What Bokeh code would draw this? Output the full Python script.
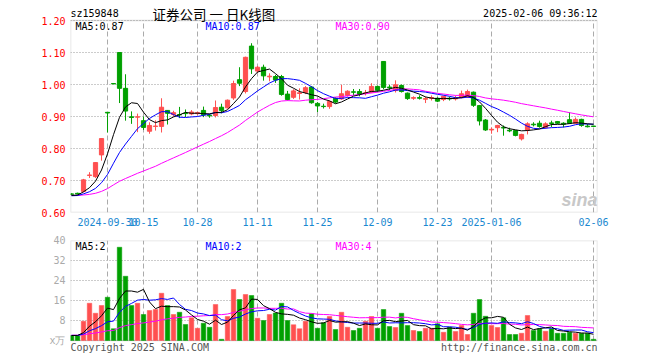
import numpy as np
from bokeh.plotting import figure
from bokeh.models import (Range1d, FixedTicker, Label, ColumnDataSource, PrintfTickFormatter,
                          BoxAnnotation)
from bokeh.layouts import column
from bokeh.embed import file_html
from bokeh.resources import INLINE

# ---------------- data ----------------
dates = ["09-20", "09-23", "09-24", "09-25", "09-26", "09-27", "09-30", "10-08", "10-09", "10-10",
         "10-11", "10-14", "10-15", "10-16", "10-17", "10-18", "10-21", "10-22", "10-23", "10-24",
         "10-25", "10-28", "10-29", "10-30", "10-31", "11-01", "11-04", "11-05", "11-06", "11-07",
         "11-08", "11-11", "11-12", "11-13", "11-14", "11-15", "11-18", "11-19", "11-20", "11-21",
         "11-22", "11-25", "11-26", "11-27", "11-28", "11-29", "12-02", "12-03", "12-04", "12-05",
         "12-06", "12-09", "12-10", "12-11", "12-12", "12-13", "12-16", "12-17", "12-18", "12-19",
         "12-20", "12-23", "12-24", "12-25", "12-26", "12-27", "12-30", "12-31", "01-02", "01-03",
         "01-06", "01-07", "01-08", "01-09", "01-10", "01-13", "01-14", "01-15", "01-16", "01-17",
         "01-20", "01-21", "01-22", "01-23", "01-24", "01-27", "02-05", "02-06"]

open_ = [0.658, 0.660, 0.666, 0.716, 0.712, 0.780, 0.913, 1.003, 1.100, 0.988,
         0.899, 0.898, 0.887, 0.854, 0.869, 0.869, 0.919, 0.906, 0.906, 0.910,
         0.908, 0.909, 0.919, 0.904, 0.903, 0.929, 0.927, 0.958, 1.015, 0.978,
         1.120, 1.042, 1.054, 1.024, 1.025, 1.025, 0.970, 0.960, 0.972, 0.975,
         0.992, 0.941, 0.932, 0.931, 0.957, 0.955, 0.966, 0.977, 0.978, 0.972,
         0.976, 0.994, 1.072, 0.992, 0.981, 0.997, 0.973, 0.957, 0.959, 0.954,
         0.957, 0.957, 0.953, 0.957, 0.955, 0.960, 0.961, 0.976, 0.934, 0.889,
         0.858, 0.865, 0.866, 0.857, 0.856, 0.830, 0.858, 0.876, 0.879, 0.865,
         0.880, 0.884, 0.879, 0.890, 0.879, 0.891, 0.870, 0.870]
high = [0.660, 0.662, 0.705, 0.726, 0.757, 0.832, 0.914, 1.003, 1.101, 1.032,
        0.916, 0.909, 0.900, 0.882, 0.888, 0.957, 0.920, 0.918, 0.930, 0.922,
        0.920, 0.915, 0.931, 0.908, 0.950, 0.940, 0.953, 1.012, 1.054, 1.087,
        1.129, 1.058, 1.062, 1.035, 1.030, 1.030, 0.980, 0.985, 0.988, 0.995,
        0.995, 0.945, 0.940, 0.950, 0.960, 0.999, 0.982, 0.986, 0.986, 0.983,
        1.004, 0.997, 1.073, 0.999, 1.013, 1.000, 0.975, 0.963, 0.966, 0.962,
        0.966, 0.960, 0.965, 0.962, 0.965, 0.981, 0.984, 0.978, 0.936, 0.892,
        0.866, 0.874, 0.872, 0.865, 0.858, 0.846, 0.882, 0.882, 0.887, 0.882,
        0.887, 0.886, 0.882, 0.913, 0.897, 0.893, 0.877, 0.871]
low = [0.655, 0.656, 0.663, 0.708, 0.708, 0.762, 0.850, 1.002, 0.942, 0.887,
       0.877, 0.851, 0.858, 0.846, 0.856, 0.850, 0.875, 0.900, 0.895, 0.898,
       0.904, 0.905, 0.898, 0.896, 0.897, 0.910, 0.925, 0.952, 0.995, 0.972,
       1.033, 1.036, 1.012, 1.010, 1.005, 0.965, 0.950, 0.955, 0.953, 0.970,
       0.940, 0.914, 0.925, 0.924, 0.941, 0.952, 0.962, 0.966, 0.963, 0.966,
       0.973, 0.977, 0.985, 0.982, 0.975, 0.975, 0.952, 0.952, 0.953, 0.942,
       0.950, 0.945, 0.948, 0.950, 0.950, 0.957, 0.958, 0.930, 0.872, 0.855,
       0.846, 0.851, 0.840, 0.851, 0.838, 0.825, 0.844, 0.869, 0.865, 0.862,
       0.867, 0.876, 0.866, 0.877, 0.877, 0.868, 0.866, 0.868]
close = [0.657, 0.658, 0.702, 0.717, 0.756, 0.831, 0.911, 1.002, 0.988, 0.917,
         0.897, 0.899, 0.866, 0.872, 0.870, 0.929, 0.910, 0.912, 0.905, 0.909,
         0.914, 0.912, 0.905, 0.902, 0.928, 0.919, 0.951, 1.003, 1.004, 1.085,
         1.049, 1.054, 1.027, 1.026, 1.014, 0.969, 0.953, 0.980, 0.974, 0.990,
         0.943, 0.933, 0.931, 0.947, 0.945, 0.971, 0.979, 0.976, 0.969, 0.974,
         0.994, 0.982, 0.991, 0.990, 0.999, 0.978, 0.956, 0.959, 0.957, 0.956,
         0.959, 0.948, 0.963, 0.955, 0.958, 0.971, 0.978, 0.935, 0.886, 0.858,
         0.860, 0.872, 0.864, 0.855, 0.841, 0.844, 0.877, 0.874, 0.869, 0.877,
         0.878, 0.879, 0.876, 0.879, 0.891, 0.872, 0.868, 0.869]
volume = [2.0, 2.0, 7.7, 14.9, 10.9, 14.0, 17.3, 4.7, 37.3, 25.7,
          14.0, 14.9, 10.4, 12.0, 12.4, 18.9, 14.0, 10.4, 11.3, 6.4,
          9.1, 4.9, 6.9, 5.3, 14.4, 0.5, 9.6, 20.4, 16.4, 18.4,
          18.0, 8.9, 8.0, 10.4, 11.0, 14.9, 8.0, 6.3, 4.7, 7.7,
          10.7, 4.9, 7.1, 9.6, 4.4, 11.3, 5.3, 4.0, 4.9, 7.7,
          9.6, 4.9, 12.4, 5.6, 5.2, 10.9, 6.0, 4.0, 3.6, 4.9,
          4.9, 6.7, 3.3, 5.3, 3.6, 6.0, 2.4, 10.9, 16.4, 9.7,
          6.0, 5.2, 9.1, 2.4, 2.4, 2.9, 10.0, 4.0, 4.7, 3.7,
          4.7, 2.9, 2.9, 3.3, 2.9, 2.9, 2.9, 0.5]

# closes / volumes before the visible window (for the moving averages)
prior_close = [0.662, 0.660, 0.658, 0.655, 0.652, 0.650, 0.651, 0.654, 0.656, 0.655,
               0.653, 0.650, 0.648, 0.650, 0.652, 0.655, 0.657, 0.656, 0.654, 0.652,
               0.651, 0.649, 0.650, 0.652, 0.654, 0.653, 0.651, 0.652, 0.654]
prior_volume = [2.4, 2.2, 2.6, 2.1, 1.9, 2.3, 2.5, 2.0, 1.8, 2.2,
                2.4, 2.1, 1.9, 2.0, 2.3, 2.6, 2.2, 1.8, 2.0, 2.1,
                2.3, 1.9, 2.0, 2.2, 2.1, 1.9, 2.0, 2.1, 2.0]

tick_idx = [6, 12, 21, 31, 41, 51, 61, 70, 87]
tick_labels = ["2024-09-30", "10-15", "10-28", "11-11", "11-25", "12-09", "12-23", "2025-01-06", "02-06"]
price_ticks = [0.60, 0.70, 0.80, 0.90, 1.00, 1.10, 1.20]
volume_ticks = [0, 8, 16, 24, 32, 40]

title_code = "sz159848"
title_text = "证券公司 一 日K线图"
time_text = "2025-02-06 09:36:12"
price_ma_texts = ["MA5:0.87", "MA10:0.87", "MA30:0.90"]
vol_ma_texts = ["MA5:2", "MA10:2", "MA30:4"]
vol_unit = "x万"
copyright_text = "Copyright 2025 SINA.COM"
url_text = "http://finance.sina.com.cn"

# ---------------- derived ----------------
n = len(close)
idx = list(range(n))
UP, DOWN = "#ff5050", "#00a000"
colors = []
for i in range(n):
    if close[i] > open_[i]:
        colors.append(UP)
    elif close[i] < open_[i]:
        colors.append(DOWN)
    else:
        prev = close[i - 1] if i > 0 else prior_close[-1]
        colors.append(UP if close[i] >= prev else DOWN)


def moving_avg(prior, vals, k):
    allv = np.array(list(prior) + list(vals), dtype=float)
    off = len(prior)
    return [float(allv[off + i - k + 1: off + i + 1].mean()) for i in range(len(vals))]


src = ColumnDataSource(dict(
    x=idx, o=open_, h=high, l=low, c=close, v=volume, color=colors,
    top=[max(a, b) for a, b in zip(open_, close)],
    bot=[min(a, b) for a, b in zip(open_, close)],
    ma5=moving_avg(prior_close, close, 5), ma10=moving_avg(prior_close, close, 10),
    ma30=moving_avg(prior_close, close, 30),
    vma5=moving_avg(prior_volume, volume, 5), vma10=moving_avg(prior_volume, volume, 10),
    vma30=moving_avg(prior_volume, volume, 30),
))

FONT = "DejaVu Sans Mono"
X0, X1 = -0.17, -0.17 + 527 / 6.0
PX = 6.0  # pixels per bar
P_LO, P_HI = price_ticks[0], price_ticks[-1]
V_LO, V_HI = 0, volume_ticks[-1]


def wx(px):  # window-pixel x -> data x
    return X0 + (px - 70) / PX


def wy1(py):  # window-pixel y -> price
    return 1.20 - (py - 20) / 320.0


def wy2(py):  # window-pixel y -> volume
    return 40 - (py - 240) / 2.5


def style(p, ticks, color, lo, hi):
    p.outline_line_color = None
    p.background_fill_color = "white"
    p.border_fill_color = "white"
    p.yaxis.ticker = FixedTicker(ticks=ticks)
    p.yaxis.axis_line_color = None
    p.yaxis.major_tick_line_color = None
    p.yaxis.minor_tick_line_color = None
    p.yaxis.major_tick_out = 0
    p.yaxis.major_tick_in = 0
    p.yaxis.major_label_text_color = color
    p.yaxis.major_label_text_font = FONT
    p.yaxis.major_label_text_font_size = "10px"
    p.yaxis.major_label_standoff = 5
    p.xaxis.ticker = FixedTicker(ticks=tick_idx)
    p.xgrid.visible = False
    p.ygrid.grid_line_color = "#999999"
    p.ygrid.grid_line_dash = "1 2"
    p.xaxis.axis_line_color = None
    p.xaxis.major_tick_line_color = None
    p.xaxis.minor_tick_line_color = None
    p.xaxis.major_tick_out = 0
    p.xaxis.major_tick_in = 0
    # vertical dashed date lines, limited to the panel box
    p.segment(x0=tick_idx, x1=tick_idx, y0=[lo] * len(tick_idx), y1=[hi] * len(tick_idx),
              line_color="#aaaaaa", line_dash="5 3", line_width=1)
    # panel border
    p.add_layout(BoxAnnotation(bottom=lo, top=hi, fill_color=None, fill_alpha=0,
                               line_color="#999999", line_width=1.5, level="underlay"))


def lab(p, x, y, text, color="#000000", size="10px", align="left", font=FONT, **kw):
    p.add_layout(Label(x=x, y=y, text=text, text_color=color, text_font=font,
                       text_font_size=size, text_align=align, text_baseline="middle", **kw))


# ---------------- price panel (frame extended up to hold the header) ----------------
p1 = figure(width=617, height=232, x_range=Range1d(X0, X1), y_range=Range1d(P_LO, wy1(0)),
            output_backend="svg", toolbar_location=None,
            min_border_left=70, min_border_right=20, min_border_top=0, min_border_bottom=20)
style(p1, price_ticks, "#ff0000", P_LO, P_HI)
p1.yaxis.formatter = PrintfTickFormatter(format="%.2f")
p1.xaxis.major_label_overrides = {t: s for t, s in zip(tick_idx, tick_labels)}
p1.xaxis.major_label_text_color = "#1a88d0"
p1.xaxis.major_label_text_font = FONT
p1.xaxis.major_label_text_font_size = "10px"
p1.xaxis.major_label_standoff = 5

p1.segment(x0="x", x1="x", y0="l", y1="h", color="color", line_width=1, source=src)
p1.vbar(x="x", width=0.7, top="top", bottom="bot", fill_color="color", line_color="color",
        line_width=1, source=src)
p1.line("x", "ma30", color="#ff00ff", line_width=1, source=src)
p1.line("x", "ma10", color="#0000ff", line_width=1, source=src)
p1.line("x", "ma5", color="#000000", line_width=1, source=src)

lab(p1, wx(70), wy1(13), title_code)
lab(p1, wx(152), wy1(13), title_text, size="13.5px", font="Noto Sans CJK SC")
lab(p1, wx(597), wy1(13), time_text, align="right")
lab(p1, wx(75), wy1(26), price_ma_texts[0], "#000000")
lab(p1, wx(205), wy1(26), price_ma_texts[1], "#0000ff")
lab(p1, wx(335), wy1(26), price_ma_texts[2], "#ff00ff")
lab(p1, wx(597), wy1(199), "sina", "#c8c8c8", size="18px", align="right", font="Liberation Sans",
    text_font_style="bold italic")

# ---------------- volume panel (frame extended down to hold the footer) ----------------
p2 = figure(width=617, height=128, x_range=p1.x_range, y_range=Range1d(wy2(360), V_HI),
            output_backend="svg", toolbar_location=None,
            min_border_left=70, min_border_right=20, min_border_top=8, min_border_bottom=0)
style(p2, volume_ticks, "#aaaaaa", V_LO, V_HI)
p2.yaxis.major_label_overrides = {0: vol_unit}
p2.xaxis.visible = False

p2.vbar(x="x", width=0.75, top="v", bottom=0, fill_color="color", line_color="color",
        line_width=0.5, source=src)
p2.line("x", "vma30", color="#ff00ff", line_width=1, source=src)
p2.line("x", "vma10", color="#0000ff", line_width=1, source=src)
p2.line("x", "vma5", color="#000000", line_width=1, source=src)

lab(p2, wx(75), wy2(246), vol_ma_texts[0], "#000000")
lab(p2, wx(205), wy2(246), vol_ma_texts[1], "#0000ff")
lab(p2, wx(335), wy2(246), vol_ma_texts[2], "#ff00ff")
lab(p2, wx(70), wy2(347), copyright_text, "#555555")
lab(p2, wx(597), wy2(347), url_text, "#555555", align="right")

layout = column(p1, p2, spacing=0)
open("out.html", "w").write(file_html(layout, INLINE))
